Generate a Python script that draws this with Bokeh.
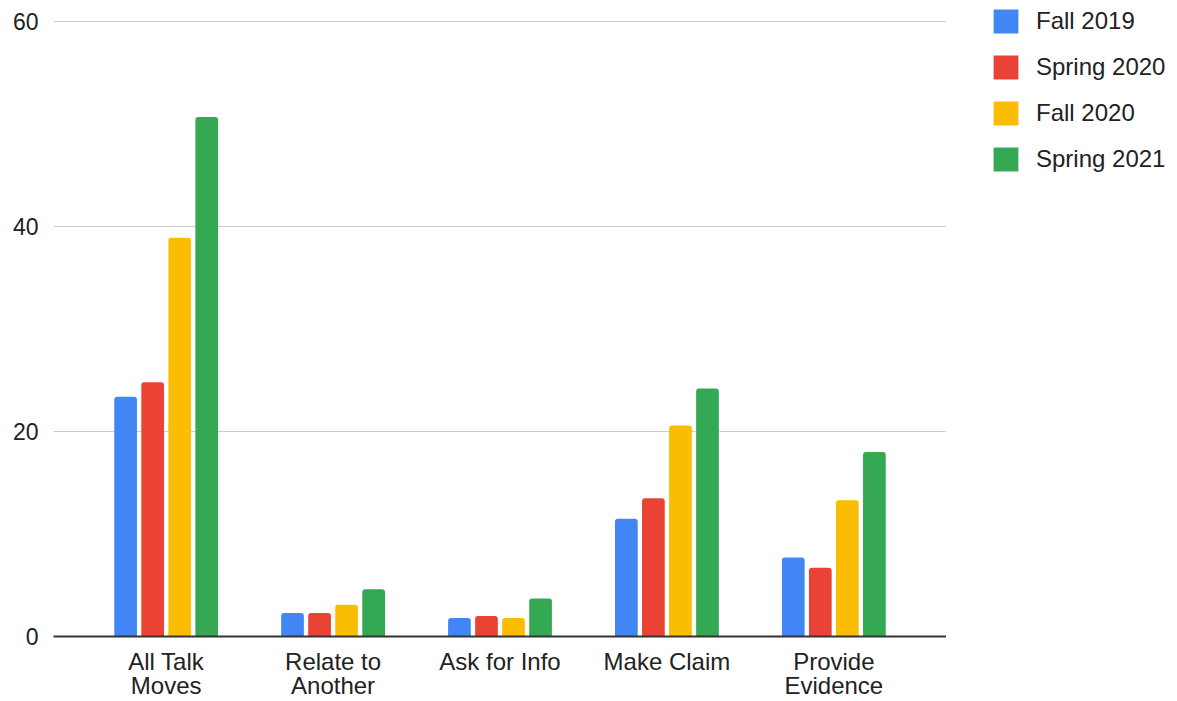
import numpy as np
from bokeh.plotting import figure
from bokeh.layouts import row
from bokeh.models import Range1d, FixedTicker, Legend, LegendItem, LinearAxis
from bokeh.embed import file_html
from bokeh.resources import INLINE

categories = ["All Talk Moves", "Relate to Another", "Ask for Info", "Make Claim", "Provide Evidence"]
tick_labels = ["All Talk\nMoves", "Relate to\nAnother", "Ask for Info", "Make Claim", "Provide\nEvidence"]
series = ["Fall 2019", "Spring 2020", "Fall 2020", "Spring 2021"]
fall_2019 = [23.4, 2.3, 1.8, 11.5, 7.7]
spring_2020 = [24.8, 2.3, 2.0, 13.5, 6.7]
fall_2020 = [38.9, 3.1, 1.8, 20.6, 13.3]
spring_2021 = [50.7, 4.6, 3.7, 24.2, 18.0]
y_ticks = [0, 20, 40, 60]

data = [fall_2019, spring_2020, fall_2020, spring_2021]
colors = ["#4285F4", "#EA4335", "#FBBC04", "#34A853"]
offsets = [-0.243, -0.081, 0.081, 0.243]
FONT = "Liberation Sans"
TXT = "#222222"

x = np.arange(len(categories))

p = figure(width=946, height=701, output_backend="svg", toolbar_location=None,
           x_range=Range1d(-0.675, 4.675), y_range=Range1d(0, 62.06),
           min_border_left=53, min_border_right=0, min_border_top=0, min_border_bottom=0)
p.background_fill_color = "white"
p.border_fill_color = "white"
p.outline_line_color = None

for vals, col, off in zip(data, colors, offsets):
    p.vbar(x=x + off, top=vals, width=0.136, bottom=0, fill_color=col,
           line_color=None, border_radius=(3, 3, 0, 0))

p.yaxis.ticker = FixedTicker(ticks=y_ticks)
p.yaxis.axis_line_color = None
p.yaxis.major_tick_line_color = None
p.yaxis.minor_tick_line_color = None
p.yaxis.major_tick_out = 0
p.yaxis.major_label_text_font = FONT
p.yaxis.major_label_text_font_size = "23px"
p.yaxis.major_label_text_color = TXT
p.yaxis.major_label_standoff = 15

# category labels: first line on the main axis, second line on a second axis below
line1 = {int(i): lab.split("\n")[0] for i, lab in zip(x, tick_labels)}
line2_ticks = [int(i) for i, lab in zip(x, tick_labels) if "\n" in lab]
line2 = {int(i): lab.split("\n")[1] for i, lab in zip(x, tick_labels) if "\n" in lab}

ax1 = p.xaxis[0]
ax1.ticker = FixedTicker(ticks=list(x))
ax1.major_label_overrides = line1
ax1.axis_line_color = "#333333"
ax1.axis_line_width = 2
ax1.major_tick_line_color = None
ax1.minor_tick_line_color = None
ax1.major_tick_out = 0
ax1.major_tick_in = 0
ax1.major_label_text_font = FONT
ax1.major_label_text_font_size = "24px"
ax1.major_label_text_color = TXT
ax1.major_label_standoff = 11

ax2 = LinearAxis(ticker=FixedTicker(ticks=line2_ticks), major_label_overrides=line2,
                 axis_line_color=None, major_tick_line_color=None, minor_tick_line_color=None,
                 major_tick_out=0, major_tick_in=0,
                 major_label_text_font=FONT, major_label_text_font_size="24px",
                 major_label_text_color=TXT, major_label_standoff=-6)
p.add_layout(ax2, "below")

p.xgrid.grid_line_color = None
p.ygrid.grid_line_color = "#cccccc"
p.ygrid.grid_line_width = 1

# legend panel
lf = figure(width=231, height=701, output_backend="svg", toolbar_location=None,
            x_axis_location=None, y_axis_location=None,
            x_range=Range1d(0, 1), y_range=Range1d(0, 1),
            min_border_left=0, min_border_right=0, min_border_top=0, min_border_bottom=0)
lf.outline_line_color = None
lf.xgrid.grid_line_color = None
lf.ygrid.grid_line_color = None
lf.background_fill_color = "white"
lf.border_fill_color = "white"
lrs = [lf.vbar(x=[-5], top=[-5], bottom=[-5], width=0.1, fill_color=c, line_color=None,
               border_radius=3) for c in colors]
legend = Legend(items=[LegendItem(label=s, renderers=[r]) for s, r in zip(series, lrs)],
                location=(44, 462), padding=0, margin=0, border_line_color=None,
                background_fill_alpha=0, glyph_width=31, glyph_height=30, label_height=30,
                spacing=16, label_standoff=15, label_text_font=FONT,
                label_text_font_size="24px", label_text_color=TXT)
lf.add_layout(legend)

layout = row(p, lf, spacing=0)
open("out.html", "w").write(file_html(layout, INLINE))
